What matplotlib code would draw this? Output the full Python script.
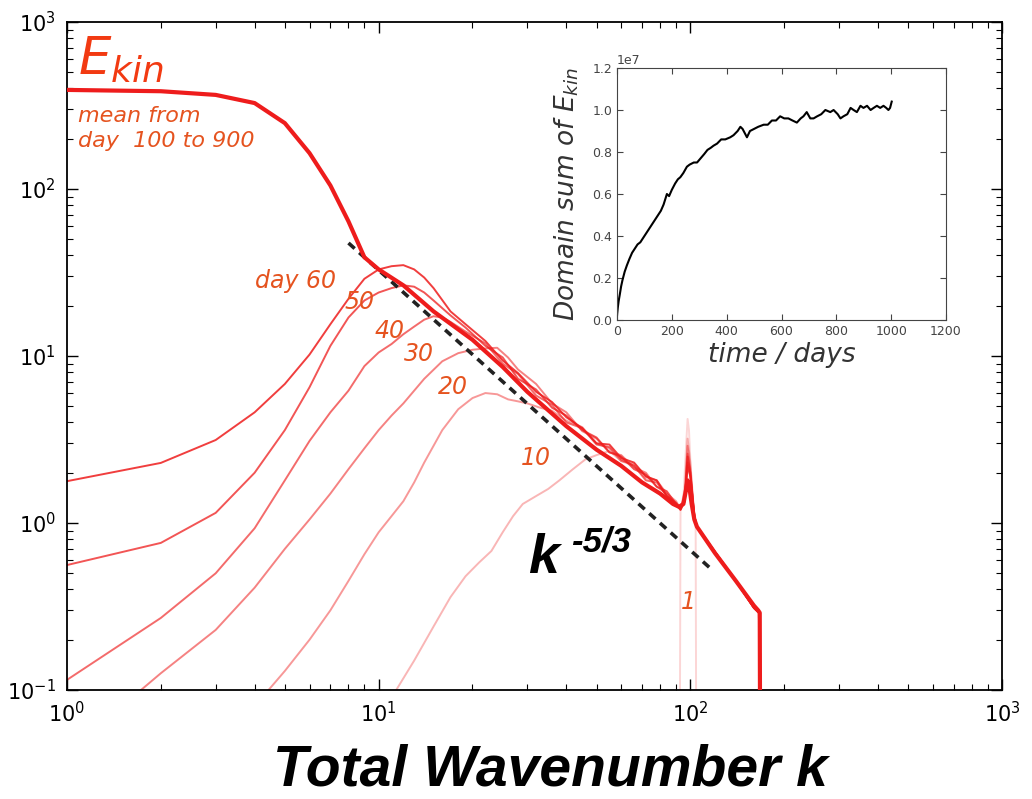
import numpy as np
import matplotlib.pyplot as plt

# mean spectrum, days 100 to 900
k_mean = [1, 2, 3, 4, 5, 6, 7, 8, 9, 10, 12, 15, 20, 25, 30, 40, 50, 60, 70, 80, 88, 92,
          95, 97, 98, 99, 101, 103, 105, 120, 140, 160, 165, 167, 168]
E_mean = [392, 385, 366, 327, 248, 164, 105, 64, 39, 33, 26.5, 18.5, 12.5, 8.6, 6.1, 3.8, 2.75,
          2.2, 1.75, 1.5, 1.3, 1.25, 1.3, 1.6, 1.8, 1.7, 1.3, 1.05, 0.95, 0.66, 0.45, 0.32, 0.30,
          0.29, 0.005]

k_d60 = [1, 2, 3, 4, 5, 6, 7, 8, 9, 10, 11, 12, 13, 14, 15, 17, 19, 22, 25, 28, 32, 36, 40, 45,
         50, 55, 60, 66, 72, 78, 84, 90, 93, 96, 98, 100, 103, 105, 120, 140, 160, 166, 168]
E_d60 = [1.78, 2.29, 3.14, 4.6, 6.8, 10.2, 15.5, 22, 29, 33, 34.5, 35, 33, 29.5, 25.5, 18.5,
         15.5, 12.3, 9.4, 7.9, 6.1, 5.3, 4.3, 3.7, 3.0, 2.95, 2.45, 2.3, 1.9, 1.8, 1.45, 1.3,
         1.2, 1.35, 2.2, 1.9, 1.1, 0.95, 0.67, 0.45, 0.31, 0.29, 0.005]

k_d50 = [1, 2, 3, 4, 5, 6, 7, 8, 9, 10, 11, 12, 13, 14, 15, 17, 19, 22, 25, 28, 32, 36, 40, 45,
         50, 55, 60, 66, 72, 78, 84, 90, 93, 96, 98, 100, 103, 105, 120, 140, 160, 166, 168]
E_d50 = [0.56, 0.76, 1.15, 2.0, 3.6, 6.5, 11.5, 17, 21.5, 24, 25.5, 26.5, 26, 24, 21.5, 17.5,
         14.8, 11.5, 9.8, 7.3, 6.3, 4.9, 4.4, 3.6, 3.25, 2.65, 2.5, 2.1, 1.95, 1.65, 1.55, 1.3,
         1.22, 1.4, 2.5, 2.0, 1.1, 0.95, 0.67, 0.45, 0.31, 0.29, 0.005]

k_d40 = [1, 2, 3, 4, 5, 6, 7, 8, 9, 10, 11, 12, 13, 14, 15, 16, 17, 19, 22, 25, 28, 32, 36, 40,
         45, 50, 55, 60, 66, 72, 78, 84, 90, 93, 96, 98, 100, 103, 105, 120, 140, 160, 166, 168]
E_d40 = [0.115, 0.27, 0.50, 0.93, 1.8, 3.1, 4.6, 6.2, 8.7, 10.5, 11.8, 13.5, 15, 16.5, 17.3,
         17.0, 16.0, 14, 11.9, 9.0, 7.8, 5.8, 5.1, 4.0, 3.7, 2.95, 2.85, 2.4, 2.2, 1.8, 1.75,
         1.45, 1.32, 1.22, 1.4, 2.3, 1.9, 1.1, 0.95, 0.67, 0.45, 0.31, 0.29, 0.005]

k_d30 = [1.5, 2, 3, 4, 5, 6, 7, 8, 9, 10, 11, 12, 14, 16, 18, 20, 22, 24, 26, 28, 32, 36, 40,
         45, 50, 55, 60, 66, 72, 78, 84, 90, 93, 96, 98, 100, 103, 105, 120, 140, 160, 166, 168]
E_d30 = [0.08, 0.126, 0.229, 0.41, 0.7, 1.05, 1.5, 2.1, 2.8, 3.6, 4.4, 5.2, 7.3, 9.3, 10.4,
         10.9, 11.1, 11.2, 9.8, 8.3, 6.8, 5.2, 4.6, 3.55, 3.2, 2.65, 2.55, 2.15, 2.0, 1.65, 1.5,
         1.28, 1.2, 1.35, 2.6, 2.0, 1.1, 0.95, 0.67, 0.45, 0.31, 0.29, 0.005]

k_d20 = [4, 5, 6, 7, 8, 9, 10, 11, 12, 13, 14, 16, 18, 20, 22, 24, 26, 28, 30, 33, 36, 40, 45,
         50, 55, 60, 66, 72, 78, 84, 90, 93, 96, 98, 100, 103, 105, 120, 140, 160, 166, 168]
E_d20 = [0.08, 0.13, 0.2, 0.3, 0.45, 0.65, 0.88, 1.1, 1.35, 1.75, 2.3, 3.6, 4.8, 5.6, 6.0, 5.9,
         5.5, 5.35, 5.2, 4.9, 4.7, 4.1, 3.75, 3.0, 2.8, 2.35, 2.25, 1.9, 1.8, 1.5, 1.35, 1.22,
         1.45, 2.9, 2.1, 1.1, 0.95, 0.67, 0.45, 0.31, 0.29, 0.005]

k_d10 = [11, 13, 15, 17, 19, 21, 23, 25, 27, 29, 32, 35, 38, 42, 46, 50, 55, 60, 66, 72, 78,
         84, 90, 93, 96, 98, 100, 103, 105, 120, 140, 160, 166, 168]
E_d10 = [0.09, 0.15, 0.24, 0.36, 0.48, 0.58, 0.68, 0.88, 1.1, 1.3, 1.45, 1.6, 1.8, 2.1, 2.4,
         2.55, 2.7, 2.35, 2.2, 1.85, 1.8, 1.45, 1.32, 1.2, 1.6, 3.2, 2.3, 1.1, 0.95, 0.67,
         0.45, 0.31, 0.29, 0.005]

k_d1 = [92, 93, 95, 97, 98, 99, 101, 103, 104, 105]
E_d1 = [0.001, 1.2, 1.4, 3.0, 4.2, 3.6, 1.6, 1.05, 1.0, 0.001]

# k^-5/3 reference line end points
k_ref = [8, 118]
E_ref = [47.5, 0.52]

# inset: domain sum of E_kin (units of 1e7)
t_days = [0, 3, 6, 10, 15, 20, 28, 36, 45, 55, 65, 75, 85, 95, 105, 115, 125, 140, 150, 160,
          170, 182, 190, 200, 212, 222, 231, 242, 255, 265, 280, 292, 305, 318, 330, 342, 352,
          365, 380, 395, 413, 425, 440, 450, 458, 466, 474, 485, 500, 515, 535, 550, 565, 580,
          595, 610, 625, 640, 656, 670, 680, 692, 705, 717, 730, 745, 760, 778, 790, 805, 815,
          826, 840, 852, 863, 875, 888, 899, 912, 925, 936, 948, 960, 972, 982, 990, 996, 1002]
e_sum = [0.02, 0.06, 0.09, 0.12, 0.16, 0.19, 0.23, 0.26, 0.29, 0.32, 0.34, 0.36, 0.37, 0.39,
         0.41, 0.43, 0.45, 0.48, 0.50, 0.52, 0.55, 0.60, 0.59, 0.62, 0.65, 0.67, 0.68, 0.70,
         0.73, 0.74, 0.75, 0.75, 0.77, 0.79, 0.81, 0.82, 0.83, 0.84, 0.86, 0.86, 0.87, 0.88,
         0.90, 0.92, 0.91, 0.89, 0.87, 0.90, 0.91, 0.92, 0.93, 0.93, 0.95, 0.95, 0.97, 0.96,
         0.96, 0.95, 0.94, 0.96, 0.97, 0.99, 0.96, 0.96, 0.97, 0.98, 1.00, 0.99, 1.00, 0.98,
         0.96, 0.97, 0.98, 1.01, 1.00, 0.99, 1.02, 1.01, 1.02, 1.00, 1.01, 1.02, 1.01, 1.02,
         1.01, 1.00, 1.01, 1.04]

red = '#ee1c1c'
lab = '#e5531f'

fig = plt.figure(figsize=(10.32, 7.99), dpi=100)
ax = fig.add_axes([67/1032, 1 - 690/799, 935/1032, 668/799])

days = [(k_d1, E_d1, 0.18), (k_d10, E_d10, 0.32), (k_d20, E_d20, 0.45), (k_d30, E_d30, 0.55),
        (k_d40, E_d40, 0.65), (k_d50, E_d50, 0.75), (k_d60, E_d60, 0.85)]
for kk, ee, a in days:
    ax.plot(kk, ee, color=red, lw=1.4, alpha=a)
ax.plot(k_ref, E_ref, color='#222222', lw=2.6, ls=(0, (2.3, 1.7)), zorder=3)
ax.plot(k_mean, E_mean, color=red, lw=3, zorder=4)

ax.set_xscale('log')
ax.set_yscale('log')
ax.set_xlim(1, 1000)
ax.set_ylim(0.1, 1000)
ax.tick_params(which='both', direction='in', top=True, right=True, labelsize=15, pad=8)
ax.tick_params(which='major', length=8, width=1)
ax.tick_params(which='minor', length=4, width=0.8)
for s in ax.spines.values():
    s.set_linewidth(1.3)

ax.text(0.012, 0.921, r'$E_{kin}$', transform=ax.transAxes, fontsize=37, color='#f23a12',
        va='baseline', ha='left')
ax.text(0.012, 0.875, 'mean from\nday  100 to 900', transform=ax.transAxes, fontsize=16,
        style='italic', color=lab, va='top', ha='left', linespacing=1.35)

labels = [('day 60', 5.39, 28.1), ('50', 8.65, 21.0), ('40', 10.8, 14.1), ('30', 13.5, 10.3),
          ('20', 17.3, 6.5), ('10', 32.0, 2.45), ('1', 98.3, 0.337)]
for s, x, y in labels:
    ax.text(x, y, s, fontsize=17, style='italic', color=lab, ha='center', va='center')

fig.text(528/1032, 1 - 573/799, 'k', fontsize=40, fontweight='bold', style='italic',
         family='Liberation Sans', va='baseline', ha='left')
fig.text(571/1032, 1 - 551/799, '-5/3', fontsize=25, fontweight='bold', style='italic',
         family='Liberation Sans', va='baseline', ha='left')

fig.text(550/1032, 1 - 770/799, 'Total Wavenumber k', fontsize=41, fontweight='bold',
         style='italic', family='Liberation Sans', ha='center', va='center')

# inset
ax2 = fig.add_axes([617/1032, 1 - 320/799, 329/1032, 252/799])
ax2.plot(t_days, np.array(e_sum) * 1e7, color='black', lw=1.5)
ax2.set_xlim(0, 1200)
ax2.set_ylim(0, 1.2e7)
ax2.set_xticks(range(0, 1201, 200))
ax2.set_yticks(np.arange(0, 1.21e7, 0.2e7))
ax2.tick_params(direction='in', top=True, right=True, labelsize=9, labelcolor='#444444',
                length=4, color='#444444')
ax2.yaxis.get_offset_text().set_fontsize(9)
ax2.yaxis.get_offset_text().set_color('#444444')
for s in ax2.spines.values():
    s.set_color('#444444')
ax2.set_xlabel('time / days', fontsize=19, style='italic', color='#333333', labelpad=3)
ax2.set_ylabel(r'Domain sum of $E_{kin}$', fontsize=19, style='italic', color='#333333',
               labelpad=8)

fig.savefig('out.png', dpi=100)
